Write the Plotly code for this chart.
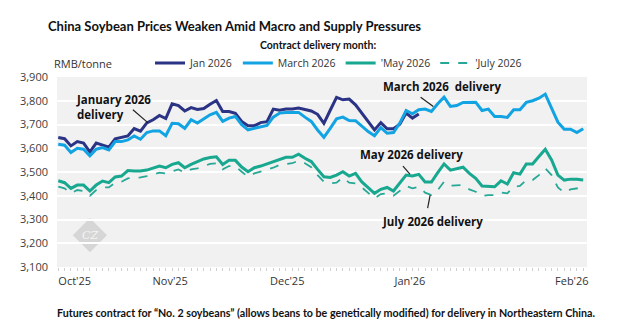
import plotly.graph_objects as go

# ---- data (RMB/tonne), one value per trading day ----
jan_2026 = [3645,3640,3610,3628,3622,3585,3622,3613,3605,3640,3647,3652,3683,3672,3707,3720,3738,3725,3787,3780,
            3757,3771,3763,3767,3785,3801,3755,3755,3747,3713,3695,3695,3708,3712,3765,3760,3765,3765,3769,
            3762,3757,3743,3705,3760,3814,3804,3807,3783,3748,3713,3677,3708,3682,3682,3701,3748,3727,3744]
mar_2026 = [3617,3613,3582,3600,3596,3568,3596,3603,3593,3628,3628,3635,3652,3638,3666,3673,3673,3653,3705,3703,
            3684,3720,3706,3724,3741,3751,3713,3727,3734,3699,3677,3684,3691,3696,3731,3748,3751,3751,3751,
            3731,3713,3677,3646,3684,3724,3731,3717,3716,3691,3670,3653,3687,3663,3666,3706,3759,3745,3762,3765,
            3755,3787,3815,3776,3780,3793,3794,3794,3759,3765,3734,3734,3730,3762,3762,3793,3800,3811,3828,3769,
            3710,3680,3680,3666,3682]
may_2026 = [3463,3455,3431,3445,3445,3420,3445,3462,3455,3479,3483,3506,3504,3504,3508,3515,3525,3518,3532,3539,
            3518,3532,3542,3555,3561,3564,3532,3549,3549,3521,3501,3518,3525,3534,3544,3555,3562,3562,3575,
            3558,3544,3511,3480,3477,3487,3501,3483,3494,3458,3434,3410,3427,3435,3420,3452,3487,3483,3490,3458,
            3458,3497,3534,3508,3515,3520,3494,3473,3441,3441,3438,3463,3449,3497,3491,3534,3534,3565,3596,3551,
            3487,3466,3470,3469,3466]
jul_2026 = [3438,3431,3410,3424,3420,3400,3424,3435,3435,3455,3459,3473,3476,3477,3483,3490,3497,3494,3504,3511,
            3497,3511,3515,3525,3534,3537,3511,3525,3525,3501,3480,3494,3501,3508,3518,3530,3534,3537,3548,
            3537,3520,3487,3459,3452,3455,3477,3455,3452,3435,3410,3389,3407,3410,3400,3421,3441,3431,3438,3413,
            3403,3424,3459,3442,3445,3445,3427,3417,3399,3403,3403,3414,3410,3438,3441,3466,3466,3487,3515,3487,
            3435,3413,3427,3431,3435]
month_labels = ["Oct'25", "Nov'25", "Dec'25", "Jan'26", "Feb'26"]
month_label_pos = [2.6, 17.7, 36.2, 55.6, 81.2]
y_ticks = [3100, 3200, 3300, 3400, 3500, 3600, 3700, 3800, 3900]

days = list(range(len(mar_2026)))
FONT = "Open Sans"
NARROW = "Lato"

fig = go.Figure()
fig.add_trace(go.Scatter(x=days[:len(jan_2026)], y=jan_2026, mode="lines", name="Jan 2026",
                         line=dict(color="#2b3384", width=3)))
fig.add_trace(go.Scatter(x=days, y=mar_2026, mode="lines", name="March 2026",
                         line=dict(color="#12a3e3", width=3)))
fig.add_trace(go.Scatter(x=days, y=may_2026, mode="lines", name="'May 2026",
                         line=dict(color="#17a88f", width=3)))
fig.add_trace(go.Scatter(x=days, y=jul_2026, mode="lines", name="'July 2026",
                         line=dict(color="#26a896", width=1.8, dash="dash")))

# watermark
fig.add_shape(type="path", path="M 5,3306 L 7.7,3234 L 5,3162 L 2.3,3234 Z",
              xref="x", yref="y", fillcolor="#d6d6d6", line=dict(width=0), layer="below")
fig.add_annotation(x=5, y=3234, text="<i>CZ</i>", showarrow=False, xref="x", yref="y",
                   font=dict(family="DejaVu Serif", size=11, color="#f4f4f4"))

bold = dict(family=FONT, size=11.5, color="#111111")
# series callouts (text + pointer line)
callouts = [
    (8.8, 3774, "<b>January 2026<br>delivery</b>", "left", (11.8, 3762, 14.2, 3707)),
    (60.7, 3859, "<b>March 2026  delivery</b>", "center", (57.3, 3815, 59.3, 3776)),
    (55.8, 3572, "<b>May 2026 delivery</b>", "center", (54.5, 3525, 55.6, 3491)),
    (59.1, 3290, "<b>July 2026 delivery</b>", "center", (58.8, 3403, 58.4, 3348)),
]
for (tx, ty, txt, al, (x0, y0, x1, y1)) in callouts:
    fig.add_annotation(x=tx, y=ty, text=txt, showarrow=False, xref="x", yref="y",
                       align="left", font=bold)
    fig.add_shape(type="line", x0=x0, y0=y0, x1=x1, y1=y1, xref="x", yref="y",
                  line=dict(color="#222222", width=1.2))

fig.add_annotation(x=-5 / 530, y=(267 - 63) / 190, xref="paper", yref="paper", text="RMB/tonne",
                   showarrow=False, xanchor="left", yanchor="middle",
                   font=dict(family=FONT, size=11, color="#333333"))
fig.add_annotation(x=(318 - 57) / 530, y=(267 - 45) / 190, xref="paper", yref="paper",
                   text="<b>Contract delivery month:</b>", showarrow=False,
                   xanchor="center", yanchor="middle",
                   font=dict(family=NARROW, size=10.5, color="#111111"))
fig.add_annotation(x=(326 - 57) / 530, y=(267 - 312) / 190, xref="paper", yref="paper",
                   text="<b>Futures contract for \u201cNo. 2 soybeans\u201d (allows beans to be genetically modified) for delivery in Northeastern China.</b>",
                   showarrow=False, xanchor="center", yanchor="middle",
                   font=dict(family=NARROW, size=10.7, color="#111111"))

fig.update_layout(
    width=617, height=325,
    margin=dict(l=57, r=30, t=77, b=58),
    paper_bgcolor="white", plot_bgcolor="#f1f1f1",
    title=dict(text="<b>China Soybean Prices Weaken Amid Macro and Supply Pressures</b>",
               x=48 / 617, xanchor="left", xref="container",
               y=1 - 26 / 325, yanchor="middle", yref="container",
               font=dict(family=NARROW, size=13, color="#111111")),
    showlegend=True,
    legend=dict(orientation="h", x=(150 - 57) / 530, xanchor="left",
                y=(267 - 63) / 190, yanchor="middle",
                font=dict(family=FONT, size=10.5, color="#333333"),
                bgcolor="rgba(0,0,0,0)", itemwidth=30, tracegroupgap=0),
    xaxis=dict(range=[-0.2, 83.6], tickmode="array", tickvals=month_label_pos, ticktext=month_labels,
               showgrid=False, zeroline=False, showline=False, ticks="",
               tickfont=dict(family=FONT, size=11, color="#333333"),
               minor=dict(ticks="outside", tickmode="linear", tick0=0, dtick=1, ticklen=3,
                          tickcolor="#cfcfcf", tickwidth=1, showgrid=False),
               ticklabelstandoff=6),
    yaxis=dict(range=[3100, 3900], tickmode="array", tickvals=y_ticks,
               tickformat=",d", showgrid=True, gridcolor="white", gridwidth=1.5,
               zeroline=False, showline=False, ticks="",
               tickfont=dict(family=FONT, size=11, color="#404040"), ticklabelstandoff=8),
)

fig.write_html("out.html")
